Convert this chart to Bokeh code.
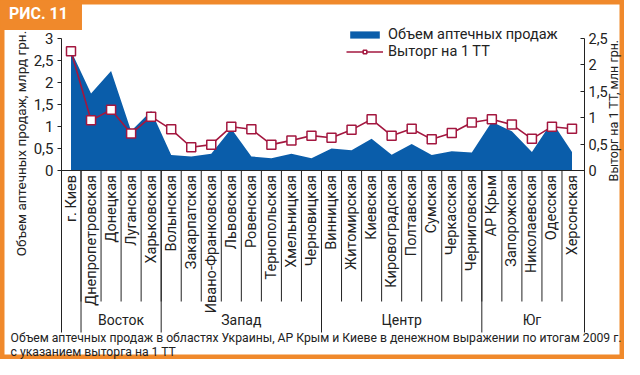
from math import pi
from bokeh.plotting import figure
from bokeh.models import (Range1d, LinearAxis, FixedTicker, Label, Legend,
                          LegendItem, ColumnDataSource)
from bokeh.core.properties import value
from bokeh.embed import file_html
from bokeh.resources import INLINE

# ---------------- data ----------------
regions = ["г. Киев", "Днепропетровская", "Донецкая", "Луганская", "Харьковская",
           "Волынская", "Закарпатская", "Ивано-Франковская", "Львовская", "Ровенская",
           "Тернопольская", "Хмельницкая", "Черновицкая", "Винницкая", "Житомирская",
           "Киевская", "Кировоградская", "Полтавская", "Сумская", "Черкасская",
           "Черниговская", "АР Крым", "Запорожская", "Николаевская", "Одесская",
           "Херсонская"]
groups = [""] + ["Восток"] * 4 + ["Запад"] * 8 + ["Центр"] * 8 + ["Юг"] * 5
sales_bn = [2.72, 1.75, 2.26, 0.90, 1.35, 0.35, 0.32, 0.38, 0.95, 0.32, 0.28, 0.38, 0.28,
            0.50, 0.46, 0.72, 0.36, 0.60, 0.35, 0.44, 0.41, 1.11, 0.89, 0.42, 1.11, 0.42]
per_outlet_mn = [2.26, 0.95, 1.15, 0.70, 1.02, 0.78, 0.44, 0.49, 0.83, 0.78, 0.49, 0.57, 0.66,
                 0.62, 0.77, 0.97, 0.66, 0.79, 0.59, 0.71, 0.91, 0.97, 0.87, 0.60, 0.83, 0.79]
left_ticks = [0, 0.5, 1, 1.5, 2, 2.5, 3]
right_ticks = [0, 0.5, 1, 1.5, 2, 2.5]
legend_labels = ["Объем аптечных продаж", "Выторг на 1 ТТ"]
left_title = "Объем аптечных продаж, млрд грн."
right_title = "Выторг на 1 ТТ, млн грн."
caption1 = "Объем аптечных продаж в областях Украины, АР Крым и Киеве в денежном выражении по итогам 2009 г."
caption2 = "с указанием выторга на 1 ТТ"
fig_tag = "РИС. 11"

# ---------------- layout / style ----------------
FONT = "Roboto"
BLUE = "#0A5DAA"
RED = "#A3173F"
ORANGE = "#F0892B"
INK = "#222222"

W, H = 624, 359
AX_L, AX_R = 61, 584          # axis lines, px
Y0 = 170                      # zero line, px
AX_BOT = 332                  # bottom end of axis lines, px
CAT0, CAT_STEP = 70.5, 20.04  # first category centre and spacing, px
PX_L, PX_R = 44.0, 52.8       # px per unit, left / right scales

def xd(px):
    return (px - CAT0) / CAT_STEP

idx = list(range(len(regions)))

p = figure(width=W, height=H, output_backend="svg", toolbar_location=None,
           x_range=Range1d(xd(0), xd(W)),
           y_range=Range1d(-(H - Y0) / PX_L, Y0 / PX_L),
           x_axis_location=None, y_axis_location=None, tools="")
p.extra_y_ranges = {"right": Range1d(-(H - Y0) / PX_R, Y0 / PX_R)}
p.min_border = 0
p.grid.visible = False
p.outline_line_color = ORANGE
p.outline_line_width = 8
p.background_fill_color = "white"
p.border_fill_color = "white"

def fmt(v):
    return ("%g" % v).replace(".", ",")

def style_axis(a, ticks, size, t_in, t_out, standoff):
    a.ticker = FixedTicker(ticks=ticks)
    a.major_label_overrides = {t: fmt(t) for t in ticks}
    a.major_label_text_font = FONT
    a.major_label_text_font_size = size
    a.major_label_text_color = INK
    a.axis_line_color = INK
    a.major_tick_line_color = INK
    a.major_tick_out = t_out
    a.major_tick_in = t_in
    a.minor_tick_line_color = None
    a.major_label_standoff = standoff

la = LinearAxis(fixed_location=xd(AX_L), bounds=(-(AX_BOT - Y0) / PX_L, left_ticks[-1]))
style_axis(la, left_ticks, "15px", 0, 4, 4)
p.add_layout(la, "left")

ra = LinearAxis(y_range_name="right", fixed_location=xd(AX_R),
                bounds=(-(AX_BOT - Y0) / PX_R, right_ticks[-1]))
style_axis(ra, right_ticks, "14.5px", 4, 0, 4)
p.add_layout(ra, "right")

# area and line
src = ColumnDataSource(dict(x=idx, s=sales_bn, o=per_outlet_mn, name=regions,
                            ly=[-4.5 / PX_L] * len(idx)))
area = p.varea(x="x", y1=0, y2="s", source=src, fill_color=BLUE)
line = p.line(x="x", y="o", source=src, y_range_name="right", line_color=RED, line_width=1.6)
pts = p.scatter(x="x", y="o", source=src, y_range_name="right", marker="square", size=9,
                fill_color="white", line_color=RED, line_width=1.5)

# zero line between the axes
p.segment(x0=[xd(AX_L)], y0=[0], x1=[xd(AX_R)], y1=[0], line_color=INK, line_width=1)

# category separators and labels
minor_y = -(301 - Y0) / PX_L
sep_x = [i + 0.5 for i in idx[:-1]]
p.segment(x0=sep_x, y0=[0] * len(sep_x), x1=sep_x, y1=[minor_y] * len(sep_x),
          line_color=INK, line_width=1)
grp_x = [i + 0.5 for i in idx[:-1] if groups[i] != groups[i + 1]]
p.segment(x0=grp_x, y0=[0] * len(grp_x), x1=grp_x,
          y1=[-(AX_BOT - Y0) / PX_L] * len(grp_x), line_color=INK, line_width=1)
p.text(x="x", y="ly", text="name", source=src, angle=pi / 2, text_align="right",
       text_baseline="middle", text_font=value(FONT), text_font_size="14.5px",
       text_color=INK)

gnames = [g for g in dict.fromkeys(groups) if g]
gx = [sum(i for i in idx if groups[i] == g) / groups.count(g) for g in gnames]
p.text(x=gx, y=[-(319 - Y0) / PX_L] * len(gx), text=gnames, text_align="center",
       text_baseline="middle", text_font=value(FONT), text_font_size="14px", text_color=INK)

# legend
leg = Legend(items=[LegendItem(label=legend_labels[0], renderers=[area]),
                    LegendItem(label=legend_labels[1], renderers=[line, pts])],
             location=(346, H - 60), orientation="vertical", padding=0, margin=0, spacing=0,
             glyph_width=37, glyph_height=9, label_height=16, label_standoff=5,
             label_text_font=FONT, label_text_font_size="14.5px", label_text_color=INK,
             background_fill_alpha=0, border_line_color=None)
p.add_layout(leg)

# other texts (screen units, origin at bottom-left of the canvas)
def lab(text, fx, fy, **kw):
    p.add_layout(Label(x=fx, y=H - fy, x_units="screen", y_units="screen", text=text, **kw))

lab(left_title, 20, 143, angle=pi / 2, text_align="center", text_baseline="middle",
    text_font=FONT, text_font_size="13.5px", text_color=INK)
lab(right_title, 613, 110, angle=pi / 2, text_align="center", text_baseline="middle",
    text_font=FONT, text_font_size="12.5px", text_color=INK)
lab(caption1, 10, 337, text_align="left", text_baseline="middle",
    text_font=FONT, text_font_size="12.2px", text_color=INK)
lab(caption2, 10, 351, text_align="left", text_baseline="middle",
    text_font=FONT, text_font_size="12.2px", text_color=INK)
lab(fig_tag, 38, 13, text_align="center", text_baseline="middle", text_font=FONT,
    text_font_size="16px", text_font_style="bold", text_color="white",
    background_fill_color=ORANGE, padding=dict(left=14, right=14, top=7, bottom=7))

open("out.html", "w").write(file_html(p, INLINE))
